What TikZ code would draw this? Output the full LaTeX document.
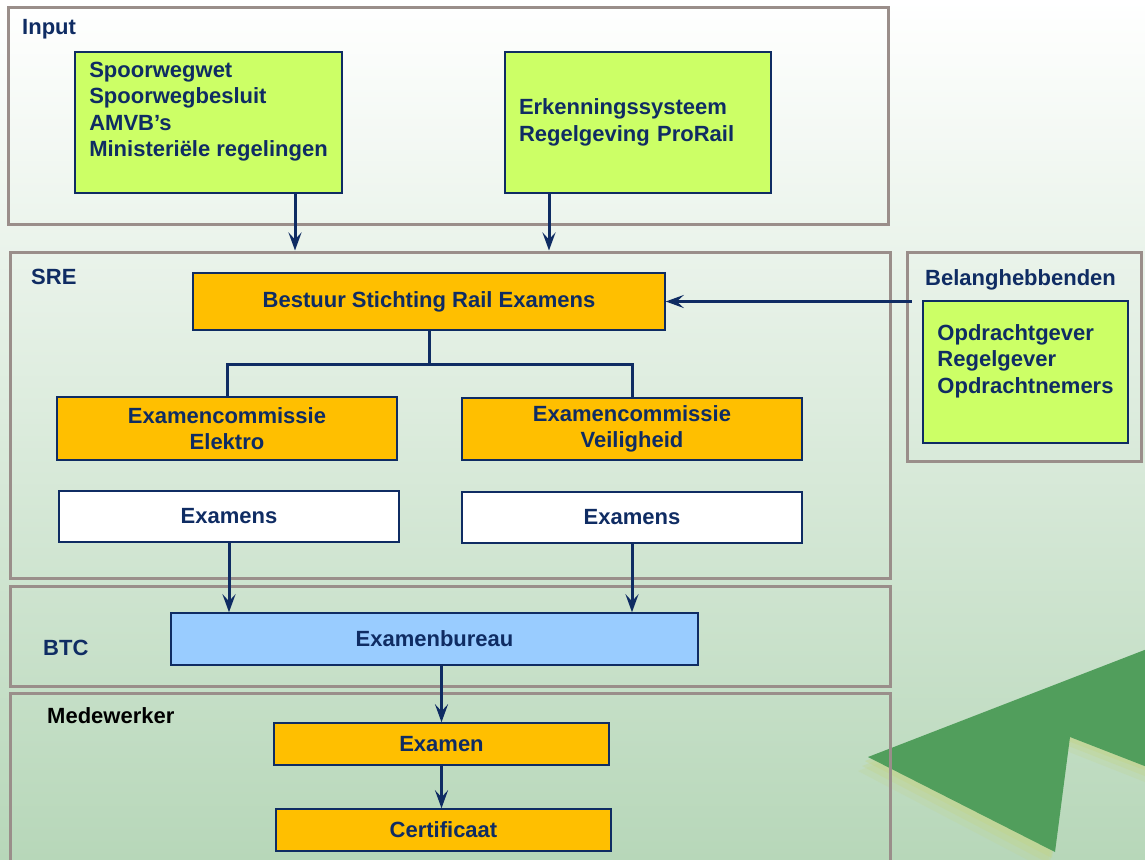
\documentclass[tikz,border=0pt]{standalone}
\usepackage{fontspec}
\setmainfont{Liberation Sans}
\usetikzlibrary{arrows.meta}
\definecolor{navy}{HTML}{0F2C63}
\definecolor{framec}{HTML}{9A8E8A}
\definecolor{limec}{HTML}{CCFF66}
\definecolor{ambc}{HTML}{FFBF00}
\definecolor{bluec}{HTML}{99CCFF}
\definecolor{leaf}{HTML}{519E5C}
\definecolor{leafshadow}{HTML}{C2D488}
\definecolor{bgmid}{HTML}{E4EFE3}
\definecolor{bgbot}{HTML}{B7D7B9}
\newcommand\bigf{\fontsize{22}{26.5}\selectfont\bfseries}
\tikzset{
  box/.style={draw=navy, line width=1.5pt, text=navy, font=\bigf, inner sep=0pt, align=center},
  frame/.style={draw=framec, line width=3pt, inner sep=0pt},
  lbl/.style={anchor=west, text=navy, font=\bigf, inner sep=0pt},
  conn/.style={draw=navy, line width=3pt},
  arr/.style={conn, -{Stealth[length=18pt,width=13pt,inset=7pt]}}
}
\begin{document}
\begin{tikzpicture}[x=1pt,y=-1pt]
\useasboundingbox (0,0) rectangle (1145,859);
\clip (0,0) rectangle (1145,859);
\shade[top color=white, middle color=bgmid, bottom color=bgbot] (0,0) rectangle (1145,859);
% decorative leaf shape with soft shadow
\fill[leafshadow, opacity=0.2] (858,771) -- (1160,656) -- (1160,788) -- (1064,750) -- (1047,870) -- cycle;
\fill[leafshadow, opacity=0.3] (862,766) -- (1160,652) -- (1160,782) -- (1066,745) -- (1050,864) -- cycle;
\fill[leafshadow, opacity=0.4] (865,761) -- (1160,648) -- (1160,776) -- (1068,741) -- (1052,858) -- cycle;
\fill[leaf] (868,757) -- (1160,644) -- (1160,772) -- (1070,737) -- (1055,852) -- cycle;
% frames
\node[frame, minimum width=880pt, minimum height=216pt] (input) at (448,116) {};
\node[frame, minimum width=880pt, minimum height=326pt] (sre) at (450,415) {};
\node[frame, minimum width=880pt, minimum height=100pt] (btc) at (450,636) {};
\node[frame, minimum width=880pt, minimum height=194pt] (med) at (450,790) {};
\node[frame, minimum width=234pt, minimum height=209pt] (bel) at (1024,356.5) {};
% frame labels
\node[lbl] (linput) at (22,29) {Input};
\node[lbl] (lsre) at (31,277) {SRE};
\node[lbl] (lbtc) at (43,648) {BTC};
\node[lbl, text=black] (lmed) at (47,716) {Medewerker};
\node[lbl] (lbel) at (925,280) {Belanghebbenden};
% boxes
\node[box, fill=limec, align=left, minimum width=267pt, minimum height=141pt] (sp) at (208.5,122.5)
  {Spoorwegwet\\Spoorwegbesluit\\AMVB’s\\Ministeriële regelingen\\\mbox{}};
\node[box, fill=limec, align=left, text width=238pt, minimum width=266pt, minimum height=141pt] (erk) at (638,122.5)
  {Erkenningssysteem\\Regelgeving ProRail};
\node[box, fill=limec, align=left, minimum width=205pt, minimum height=142pt] (opd) at (1025.5,372)
  {Opdrachtgever\\Regelgever\\Opdrachtnemers\\\mbox{}};
\node[box, fill=ambc, minimum width=472pt, minimum height=57pt] (best) at (429,301.5) {Bestuur Stichting Rail Examens};
\node[box, fill=ambc, minimum width=340pt, minimum height=63pt] (ele) at (227,428.5) {Examencommissie\\Elektro};
\node[box, fill=ambc, minimum width=340pt, minimum height=62pt] (vei) at (632,429) {Examencommissie\\Veiligheid};
\node[box, fill=white, minimum width=340pt, minimum height=51pt] (ex1) at (229,516.5) {Examens};
\node[box, fill=white, minimum width=340pt, minimum height=51pt] (ex2) at (632,517.5) {Examens};
\node[box, fill=bluec, minimum width=527pt, minimum height=52pt] (bur) at (434.5,639) {Examenbureau};
\node[box, fill=ambc, minimum width=335pt, minimum height=42pt] (exa) at (441.5,744) {Examen};
\node[box, fill=ambc, minimum width=335pt, minimum height=42pt] (cert) at (443.5,830) {Certificaat};
% connectors
\path ([xshift=6pt]bel.west) coordinate (bw);
\draw[arr] ([xshift=86.5pt]sp.south) -- ([xshift=86.5pt]sp.south |- sre.north);
\draw[arr] ([xshift=-89pt]erk.south) -- ([xshift=-89pt]erk.south |- sre.north);
\draw[arr] (bw |- best.east) -- (best.east);
\draw[conn] (best.south) -- ++(0,34) coordinate (j);
\draw[conn] (ele.north) |- (j) -| (vei.north);
\draw[arr] (ex1.south) -- (ex1.south |- bur.north);
\draw[arr] (ex2.south) -- (ex2.south |- bur.north);
\draw[arr] (exa.north |- bur.south) -- (exa.north);
\draw[arr] (exa.south) -- (exa.south |- cert.north);
\end{tikzpicture}
\end{document}
